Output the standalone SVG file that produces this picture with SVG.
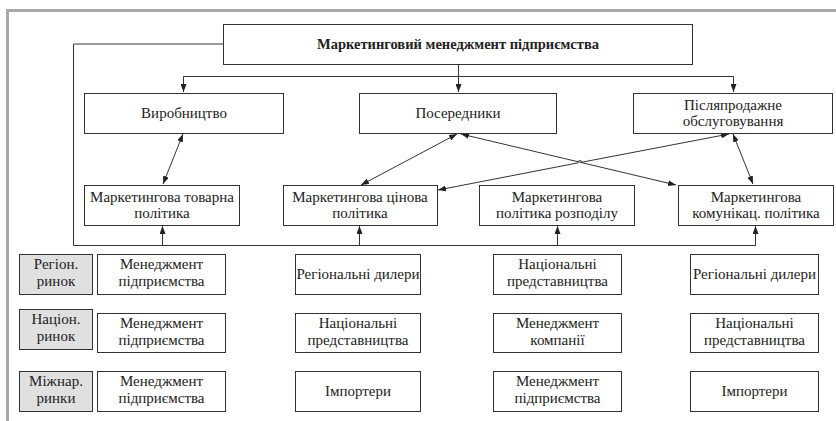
<svg xmlns="http://www.w3.org/2000/svg" width="836" height="421" viewBox="0 0 836 421">
<style>
text{font-family:'Liberation Serif','DejaVu Serif',serif;font-size:15px;fill:#222;text-anchor:middle}
.b{font-weight:bold;font-size:14.5px}
.box{fill:#fff;stroke:#333;stroke-width:1}
.gbox{fill:#e0e0e0;stroke:#333;stroke-width:1}
.c{fill:none;stroke:#333;stroke-width:1}
.frame{fill:none;stroke:#a8a8a8;stroke-width:3}
</style>
<defs>
<marker id="ah" viewBox="0 0 8 6" refX="8" refY="3" markerWidth="8" markerHeight="6" markerUnits="userSpaceOnUse" orient="auto-start-reverse">
<path d="M0,0 L8,3 L0,6 z" fill="#222"/>
</marker>
</defs>
<rect width="836" height="421" fill="#fff"/>
<path class="frame" d="M7.5,421 V10.5 H836"/>

<g id="connectors">
<path class="c" d="M223,44 H73.5 V245.5 H755.5"/>
<path class="c" d="M162.5,245.5 V226" marker-end="url(#ah)"/>
<path class="c" d="M359.5,245.5 V226" marker-end="url(#ah)"/>
<path class="c" d="M557.5,245.5 V226" marker-end="url(#ah)"/>
<path class="c" d="M755.5,245.5 V226" marker-end="url(#ah)"/>
<path class="c" d="M458.5,64 V92" marker-end="url(#ah)"/>
<path class="c" d="M183.5,76.5 H733.5"/>
<path class="c" d="M183.5,76.5 V92" marker-end="url(#ah)"/>
<path class="c" d="M733.5,76.5 V92" marker-end="url(#ah)"/>
<path class="c" d="M183,134 L163,184" marker-start="url(#ah)" marker-end="url(#ah)"/>
<path class="c" d="M457,134 L361,185" marker-start="url(#ah)" marker-end="url(#ah)"/>
<path class="c" d="M461,134 L676,185" marker-start="url(#ah)" marker-end="url(#ah)"/>
<path class="c" d="M729,134 L581.9,162.2 A2,2 0 0 0 577.9,162.9 L438,190" marker-start="url(#ah)" marker-end="url(#ah)"/>
<path class="c" d="M733,134 L753,184" marker-start="url(#ah)" marker-end="url(#ah)"/>
</g>

<g id="top"><rect class="box" x="223.5" y="24.5" width="469" height="40"/><text class="b" x="458" y="49">Маркетинговий менеджмент підприємства</text></g>

<g id="vyrobnytstvo"><rect class="box" x="84.5" y="93.5" width="199" height="40"/><text x="184" y="118">Виробництво</text></g>
<g id="poserednyky"><rect class="box" x="359.5" y="93.5" width="197" height="40"/><text x="458" y="118">Посередники</text></g>
<g id="pisliaprodazhne"><rect class="box" x="633.5" y="93.5" width="199" height="40"/><text x="733" y="110">Післяпродажне</text><text x="733" y="126">обслуговування</text></g>

<g id="tovarna"><rect class="box" x="84.5" y="185.5" width="155" height="40"/><text x="162" y="202">Маркетингова товарна</text><text x="162" y="218">політика</text></g>
<g id="tsinova"><rect class="box" x="283.5" y="185.5" width="154" height="40"/><text x="360" y="202">Маркетингова цінова</text><text x="360" y="218">політика</text></g>
<g id="rozpodil"><rect class="box" x="479.5" y="185.5" width="155" height="40"/><text x="557" y="202">Маркетингова</text><text x="557" y="218">політика розподілу</text></g>
<g id="komunikats"><rect class="box" x="678.5" y="185.5" width="155" height="40"/><text x="756" y="202">Маркетингова</text><text x="756" y="218">комунікац. політика</text></g>

<g id="region"><rect class="gbox" x="19.5" y="254.5" width="73" height="40"/><text x="56" y="269">Регіон.</text><text x="56" y="286">ринок</text></g>
<g id="natsion"><rect class="gbox" x="19.5" y="309.5" width="73" height="40"/><text x="56" y="324">Націон.</text><text x="56" y="341">ринок</text></g>
<g id="mizhnar"><rect class="gbox" x="19.5" y="371.5" width="73" height="40"/><text x="56" y="386">Міжнар.</text><text x="56" y="403">ринки</text></g>

<g id="r1c1"><rect class="box" x="97.5" y="254.5" width="128" height="40"/><text x="161.5" y="269">Менеджмент</text><text x="161.5" y="286">підприємства</text></g>
<g id="r1c2"><rect class="box" x="295.5" y="254.5" width="125" height="40"/><text x="358" y="279">Регіональні дилери</text></g>
<g id="r1c3"><rect class="box" x="493.5" y="254.5" width="128" height="40"/><text x="557.5" y="269">Національні</text><text x="557.5" y="286">представництва</text></g>
<g id="r1c4"><rect class="box" x="690.5" y="254.5" width="128" height="40"/><text x="754.5" y="279">Регіональні дилери</text></g>

<g id="r2c1"><rect class="box" x="97.5" y="313.5" width="128" height="39"/><text x="161.5" y="328">Менеджмент</text><text x="161.5" y="345">підприємства</text></g>
<g id="r2c2"><rect class="box" x="295.5" y="313.5" width="125" height="39"/><text x="358" y="328">Національні</text><text x="358" y="345">представництва</text></g>
<g id="r2c3"><rect class="box" x="493.5" y="313.5" width="128" height="39"/><text x="557.5" y="328">Менеджмент</text><text x="557.5" y="345">компанії</text></g>
<g id="r2c4"><rect class="box" x="690.5" y="313.5" width="128" height="39"/><text x="754.5" y="328">Національні</text><text x="754.5" y="345">представництва</text></g>

<g id="r3c1"><rect class="box" x="97.5" y="371.5" width="128" height="40"/><text x="161.5" y="386">Менеджмент</text><text x="161.5" y="403">підприємства</text></g>
<g id="r3c2"><rect class="box" x="295.5" y="371.5" width="125" height="40"/><text x="358" y="396">Імпортери</text></g>
<g id="r3c3"><rect class="box" x="493.5" y="371.5" width="128" height="40"/><text x="557.5" y="386">Менеджмент</text><text x="557.5" y="403">підприємства</text></g>
<g id="r3c4"><rect class="box" x="690.5" y="371.5" width="128" height="40"/><text x="754.5" y="396">Імпортери</text></g>
</svg>
